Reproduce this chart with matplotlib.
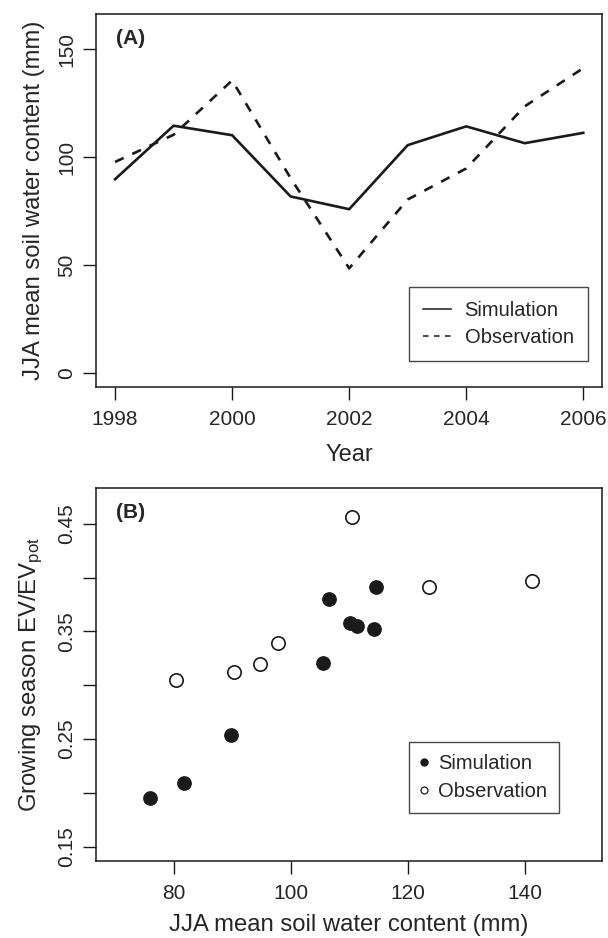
import numpy as np
import matplotlib
matplotlib.use("Agg")
import matplotlib.pyplot as plt
from matplotlib.lines import Line2D

# ---- data ----
years = [1998, 1999, 2000, 2001, 2002, 2003, 2004, 2005, 2006]
swc_sim = [89.8, 114.6, 110.2, 81.8, 75.9, 105.6, 114.3, 106.5, 111.3]
swc_obs = [97.8, 110.4, 135.6, 90.3, 48.5, 80.4, 94.8, 123.6, 141.3]

# growing season EV/EVpot (nan = no observation)
ev_sim = [0.254, 0.391, 0.358, 0.209, 0.195, 0.321, 0.352, 0.380, 0.355]
ev_obs = [0.339, 0.4565, np.nan, 0.312, np.nan, 0.305, 0.320, 0.3915, 0.397]

xticks_a = [1998, 2000, 2002, 2004, 2006]
yticks_a = [0, 50, 100, 150]
xticks_b = [80, 100, 120, 140]
yticks_b = [0.15, 0.20, 0.25, 0.30, 0.35, 0.40, 0.45]
ytlab_b = ["0.15", "", "0.25", "", "0.35", "", "0.45"]

plt.rcParams["font.family"] = ["Liberation Sans", "DejaVu Sans"]
plt.rcParams["mathtext.fontset"] = "custom"
plt.rcParams["mathtext.rm"] = "Liberation Sans"
plt.rcParams["mathtext.it"] = "Liberation Sans"
INK = "#1a1a1a"
TXT = "#262626"


def r_range(lo, hi):
    # R style 4% padding of the axis range
    d = (hi - lo) * 0.04
    return lo - d, hi + d


def style_axes(ax):
    for s in ax.spines.values():
        s.set_linewidth(1.1)
        s.set_color(INK)
    ax.tick_params(axis="both", direction="out", length=9.5, width=1.0,
                   color=INK, labelsize=15, labelcolor=TXT)
    ax.tick_params(axis="x", pad=7)
    ax.tick_params(axis="y", pad=5)
    for lab in ax.get_yticklabels():
        lab.set_rotation(90)
        lab.set_va("center")


fig = plt.figure(figsize=(6.08, 9.38), dpi=100)

# ---- panel A ----
axA = fig.add_axes([0.1584, 0.5877, 0.8318, 0.3974])
axA.plot(years, swc_sim, color=INK, lw=1.9, solid_joinstyle="miter", label="Simulation")
axA.plot(years, swc_obs, color=INK, lw=1.9, dashes=(3.6, 3.6), label="Observation")
axA.set_xlim(*r_range(1998, 2006))
axA.set_ylim(*r_range(0, 160))
axA.set_xticks(xticks_a)
axA.set_yticks(yticks_a)
style_axes(axA)
axA.set_xlabel("Year", fontsize=17, color=TXT, labelpad=11)
axA.set_ylabel("JJA mean soil water content (mm)", fontsize=17.2, color=TXT, labelpad=9)
axA.text(0.038, 0.935, "(A)", transform=axA.transAxes, fontsize=15,
         fontweight="bold", color=TXT, ha="left", va="center")
legA = axA.legend(loc="lower left", bbox_to_anchor=(0.618, 0.069), fontsize=14.5,
                  frameon=True, fancybox=False, handlelength=1.39, handletextpad=0.68,
                  borderpad=0.7, labelspacing=0.38, borderaxespad=0)
legA.get_frame().set_edgecolor(INK)
legA.get_frame().set_linewidth(1.0)
for t in legA.get_texts():
    t.set_color(TXT)
for h in legA.get_lines():
    h.set_linewidth(1.1)

# ---- panel B ----
axB = fig.add_axes([0.1584, 0.0824, 0.8318, 0.3970])
axB.plot(swc_sim, ev_sim, "o", ms=9.6, color=INK, mec=INK, ls="none")
axB.plot(swc_obs, ev_obs, "o", ms=9.6, mfc="white", mec=INK, mew=1.2, ls="none")
axB.set_xlim(*r_range(70, 150))
axB.set_ylim(*r_range(0.15, 0.47))
axB.set_xticks(xticks_b)
axB.set_yticks(yticks_b)
axB.set_yticklabels(ytlab_b)
style_axes(axB)
axB.set_xlabel("JJA mean soil water content (mm)", fontsize=17.2, color=TXT, labelpad=8)
axB.set_ylabel(r"Growing season EV/EV$_{\mathrm{pot}}$", fontsize=17.2, color=TXT, labelpad=9)
axB.text(0.038, 0.935, "(B)", transform=axB.transAxes, fontsize=15,
         fontweight="bold", color=TXT, ha="left", va="center")
hB = [Line2D([], [], marker="o", ls="none", ms=5, color=INK),
      Line2D([], [], marker="o", ls="none", ms=5, mfc="white", mec=INK, mew=0.9)]
legB = axB.legend(hB, ["Simulation", "Observation"], loc="lower left",
                  bbox_to_anchor=(0.618, 0.127), fontsize=14.5, frameon=True,
                  fancybox=False, handlelength=0.3, handletextpad=0.56,
                  borderpad=0.6, labelspacing=0.45, borderaxespad=0)
legB.get_frame().set_edgecolor(INK)
legB.get_frame().set_linewidth(1.0)
for t in legB.get_texts():
    t.set_color(TXT)

fig.savefig("out.png", dpi=100)
